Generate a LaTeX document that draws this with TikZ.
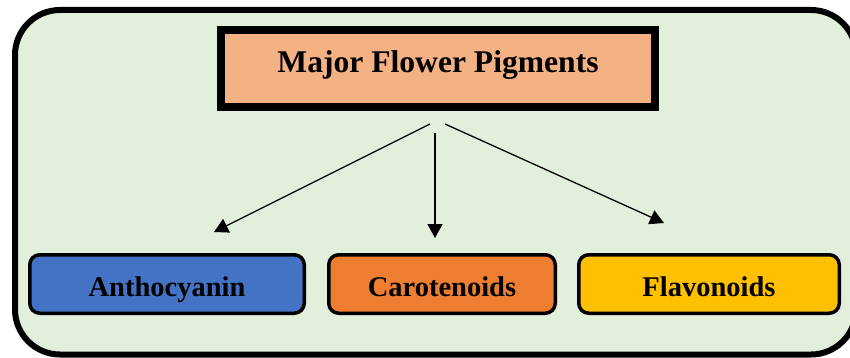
\documentclass[tikz,border=0pt]{standalone}
\usepackage{fontspec}
\setmainfont{Liberation Serif}
\usetikzlibrary{arrows.meta}
\definecolor{bggreen}{HTML}{E2EFDA}
\definecolor{peach}{HTML}{F4B183}
\definecolor{cblue}{HTML}{4472C4}
\definecolor{corange}{HTML}{ED7D31}
\definecolor{cyellow}{HTML}{FFC000}
\tikzset{
  topbox/.style={draw=black, line width=8pt, fill=peach, minimum width=434pt, minimum height=77pt,
    inner sep=0pt, font=\fontsize{31.6pt}{34pt}\selectfont\bfseries, text height=22pt, text depth=13pt},
  leafbox/.style={draw=black, line width=3.5pt, rounded corners=10pt, minimum height=58.5pt,
    inner sep=0pt, font=\fontsize{28.5pt}{30pt}\selectfont\bfseries, text height=25pt, text depth=0pt},
  arr/.style={line width=1.3pt, -{Triangle[length=14pt,width=15pt]}}
}
\begin{document}
\begin{tikzpicture}[x=1pt, y=-1pt]
\useasboundingbox (0,0) rectangle (850,358);
\clip (0,0) rectangle (850,358);
\draw[line width=6pt, fill=bggreen, rounded corners=45pt] (15,10) rectangle (856,354.5);
\node[topbox] (top) at (438,68.5) {Major Flower Pigments};
\node[leafbox, fill=cblue, minimum width=274.5pt] (antho) at (167,284) {Anthocyanin};
\node[leafbox, fill=corange, minimum width=226.5pt] (carot) at (442,284) {Carotenoids};
\node[leafbox, fill=cyellow, minimum width=260.5pt] (flavo) at (709,284) {Flavonoids};
\coordinate (sl) at (430,124);
\coordinate (sm) at (435,133);
\coordinate (sr) at (445,124);
\coordinate (tl) at (214,232);
\coordinate (tm) at (435,238);
\coordinate (tr) at (664,223);
\draw[arr] (sl) -- (tl);
\draw[arr] (sm) -- (tm);
\draw[arr] (sr) -- (tr);
\end{tikzpicture}
\end{document}
